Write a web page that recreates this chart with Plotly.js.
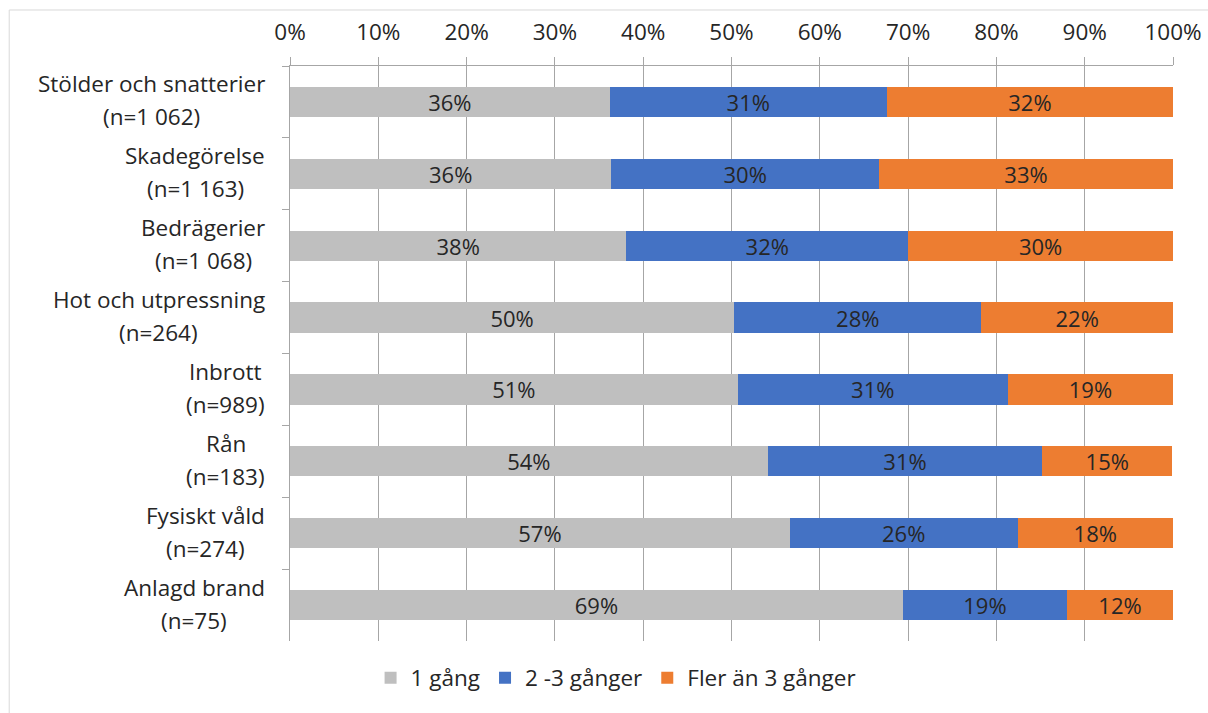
<!DOCTYPE html>
<html>
<head>
<meta charset="utf-8">
<script src="https://cdn.plot.ly/plotly-3.0.1.min.js"></script>
<style>html,body{margin:0;padding:0;background:#fff;}#chart{width:1208px;height:713px;}</style>
</head>
<body>
<div id="chart"></div>
<script>
const categories = ["Stölder och snatterier", "Skadegörelse", "Bedrägerier", "Hot och utpressning", "Inbrott", "Rån", "Fysiskt våld", "Anlagd brand"];
const counts = ["(n=1 062)", "(n=1 163)", "(n=1 068)", "(n=264)", "(n=989)", "(n=183)", "(n=274)", "(n=75)"];
const seriesNames = ["1 gång", "2 -3 gånger", "Fler än 3 gånger"];
const once = [36.2, 36.4, 38.1, 50.3, 50.7, 54.1, 56.6, 69.4];
const twoThree = [31.4, 30.3, 31.9, 28.0, 30.6, 31.1, 25.8, 18.6];
const moreThree = [32.4, 33.3, 30.0, 21.7, 18.7, 14.7, 17.6, 12.0];
const colors = ["#BFBFBF", "#4472C4", "#ED7D31"];

const FONT = "Open Sans, sans-serif";
const FS = 22.5;
const TXT = "#262626";
const series = [once, twoThree, moreThree];
const traces = series.map((vals, i) => ({
  type: "bar",
  orientation: "h",
  name: seriesNames[i],
  y: categories,
  x: vals,
  marker: {color: colors[i], line: {width: 0}},
  texttemplate: "%{x:.0f}%",
  textposition: "inside",
  insidetextanchor: "middle",
  textangle: 0,
  constraintext: "none",
  textfont: {family: FONT, size: 22, color: TXT},
  hoverinfo: "skip"
}));

// measure text widths so the two lines of each category label are centred on each other
const ctx = document.createElement("canvas").getContext("2d");
ctx.font = FS + "px 'Open Sans'";
const w = s => ctx.measureText(s).width;

const annotations = [];
categories.forEach((c, i) => {
  const w1 = w(c), w2 = w(counts[i]);
  const m = Math.max(w1, w2);
  [[c, w1, 18], [counts[i], w2, -15]].forEach(([t, wt, ys]) => {
    annotations.push({
      xref: "paper", yref: "y",
      x: 0, y: c,
      xshift: -23 - (m - wt) / 2,
      yshift: ys,
      xanchor: "right", yanchor: "middle",
      showarrow: false,
      text: t,
      font: {family: FONT, size: FS, color: TXT}
    });
  });
});

const layout = {
  width: 1208, height: 713,
  margin: {l: 290, r: 35, t: 66, b: 72},
  paper_bgcolor: "#fff", plot_bgcolor: "#fff",
  barmode: "stack",
  bargap: 0.58,
  font: {family: FONT, size: FS, color: TXT},
  xaxis: {
    side: "top", range: [0, 100], dtick: 10, ticksuffix: "%",
    showgrid: true, gridcolor: "#A6A6A6", gridwidth: 1,
    showline: true, linecolor: "#A6A6A6", linewidth: 1,
    ticks: "outside", ticklen: 8, tickcolor: "#A6A6A6",
    zeroline: false, fixedrange: true,
    tickfont: {family: FONT, size: FS, color: TXT},
    ticklabelstandoff: 8
  },
  yaxis: {
    type: "category", autorange: "reversed",
    showticklabels: false, showgrid: false, zeroline: false,
    showline: true, linecolor: "#A6A6A6", linewidth: 1,
    ticks: "outside", tickson: "boundaries", ticklen: 7, tickcolor: "#A6A6A6",
    fixedrange: true
  },
  showlegend: true,
  legend: {
    orientation: "h", xref: "container", yref: "container",
    x: 0.51, xanchor: "center", y: 0.049, yanchor: "middle",
    font: {family: FONT, size: FS, color: TXT},
    traceorder: "normal", itemwidth: 30
  },
  annotations: annotations,
  shapes: [{
    type: "rect", xref: "paper", yref: "paper",
    x0: -0.318, x1: 1.05, y0: -0.14, y1: 1.0974,
    line: {color: "#D9D9D9", width: 1}, fillcolor: "rgba(0,0,0,0)", layer: "below"
  }]
};

document.fonts.load(FS + "px 'Open Sans'").then(() => {
  Plotly.newPlot("chart", traces, layout, {displayModeBar: false, staticPlot: true});
});
</script>
</body>
</html>
